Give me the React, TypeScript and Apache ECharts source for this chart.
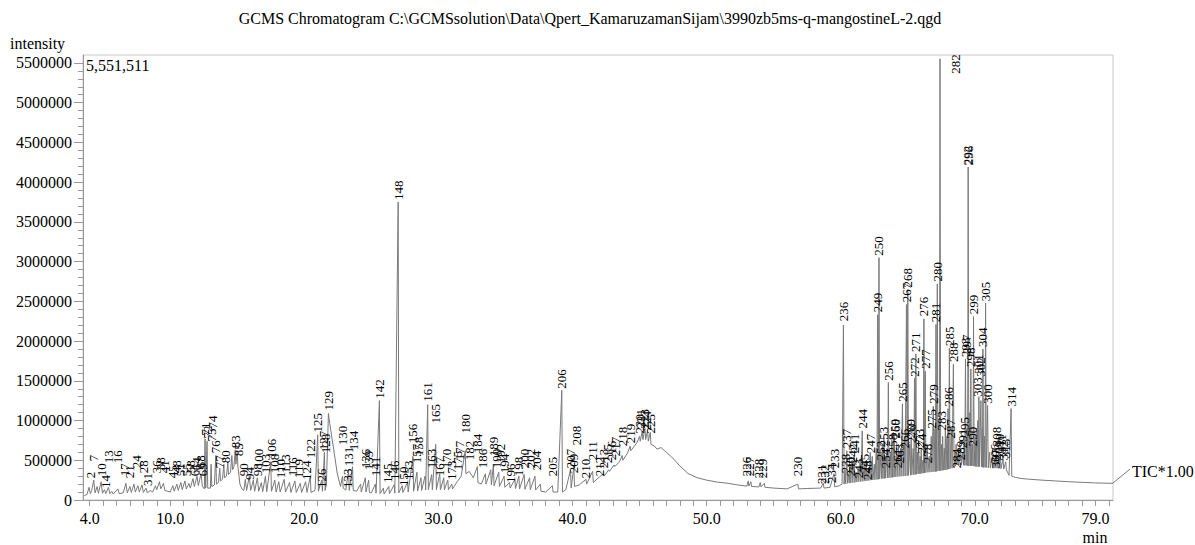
import React, { useEffect, useRef } from "react";
import * as echarts from "echarts";

const TITLE = "GCMS Chromatogram C:\\GCMSsolution\\Data\\Qpert_KamaruzamanSijam\\3990zb5ms-q-mangostineL-2.qgd";
const MAX_INTENSITY_TEXT = "5,551,511";
const Y_MAX = 5600000;

const xLabelValues = [4, 10, 20, 30, 40, 50, 60, 70, 79];
const yLabelValues = [0, 500000, 1000000, 1500000, 2000000, 2500000, 3000000, 3500000, 4000000, 4500000, 5000000, 5500000];

// TIC trace (retention time in min, intensity)
const traceA: number[][] = [
  [3.6, 55000], [3.8, 70000], [3.95, 160000], [4.05, 80000], [4.15, 120000], [4.3, 250000], [4.4, 90000],
  [4.55, 170000], [4.65, 85000], [4.85, 230000], [4.95, 85000], [5.1, 130000], [5.2, 80000], [5.4, 160000],
  [5.5, 80000], [5.65, 110000], [5.75, 75000], [6.1, 140000], [6.2, 80000], [6.5, 90000], [6.7, 210000],
  [6.8, 90000], [7.0, 170000], [7.1, 95000], [7.3, 200000], [7.4, 100000], [7.6, 180000], [7.7, 100000],
  [7.9, 190000], [8.0, 95000], [8.2, 150000], [8.3, 90000], [8.5, 120000], [8.7, 100000], [8.9, 180000],
  [9.0, 130000], [9.2, 230000], [9.3, 140000], [9.5, 210000], [9.6, 120000], [9.8, 110000], [10.0, 100000],
  [10.2, 180000], [10.3, 110000], [10.5, 200000], [10.6, 120000], [10.8, 220000], [10.9, 130000],
  [11.1, 240000], [11.2, 140000], [11.4, 210000], [11.5, 150000], [11.7, 270000], [11.8, 170000],
  [12.0, 300000], [12.1, 180000], [12.3, 330000], [12.4, 170000], [12.55, 140000], [12.6, 770000],
  [12.65, 150000], [12.75, 740000], [12.8, 150000], [13.0, 150000], [13.05, 450000], [13.1, 170000],
  [13.3, 190000], [13.4, 560000], [13.45, 200000], [13.6, 220000], [13.7, 400000], [13.75, 240000],
  [13.9, 260000], [14.0, 450000], [14.05, 280000], [14.2, 300000], [14.3, 470000], [14.35, 320000],
  [14.5, 350000], [14.6, 560000], [14.65, 380000], [14.75, 420000], [14.85, 630000], [14.9, 450000],
  [15.0, 600000], [15.05, 420000], [15.2, 200000], [15.35, 140000],
];

const traceB: number[][] = [
  [15.5, 120000], [15.6, 260000], [15.7, 120000], [15.9, 300000], [16.0, 120000], [16.2, 250000],
  [16.3, 110000], [16.5, 280000], [16.6, 110000], [16.8, 220000], [16.9, 105000], [17.1, 300000],
  [17.2, 105000], [17.5, 480000], [17.55, 110000], [17.8, 250000], [17.9, 100000], [18.1, 230000],
  [18.2, 100000], [18.5, 260000], [18.6, 100000], [18.9, 220000], [19.0, 95000], [19.3, 240000],
  [19.4, 95000], [19.7, 210000], [19.8, 95000], [20.1, 230000], [20.2, 95000], [20.45, 300000],
  [20.5, 95000], [20.8, 120000], [21.0, 820000], [21.05, 110000], [21.3, 250000], [21.35, 110000],
  [21.5, 600000], [21.55, 120000], [21.65, 200000], [21.8, 1090000], [21.9, 960000], [22.2, 630000],
  [22.45, 340000], [22.7, 170000], [22.85, 300000], [22.9, 150000], [23.1, 125000], [23.3, 380000],
  [23.35, 120000], [23.6, 420000], [23.65, 120000], [23.9, 110000], [24.2, 200000], [24.25, 100000],
  [24.55, 280000], [24.6, 100000], [24.8, 250000], [24.85, 95000],
];

const traceC: number[][] = [
  [25.0, 90000], [25.3, 200000], [25.35, 85000], [25.6, 1250000], [25.65, 80000], [25.9, 150000],
  [25.95, 75000], [26.3, 170000], [26.35, 80000], [26.7, 190000], [26.75, 85000], [27.0, 3750000],
  [27.05, 90000], [27.3, 180000], [27.35, 95000], [27.7, 220000], [27.75, 100000], [28.1, 550000],
  [28.15, 110000], [28.4, 350000], [28.45, 115000], [28.7, 280000], [28.75, 120000], [29.0, 300000],
  [29.05, 125000], [29.2, 1200000], [29.25, 130000], [29.5, 320000], [29.55, 130000], [29.8, 700000],
  [29.85, 130000], [30.1, 330000], [30.15, 130000], [30.4, 280000], [30.45, 130000], [30.7, 250000],
  [30.75, 130000], [31.0, 200000], [31.05, 140000], [31.4, 230000], [31.7, 300000], [32.0, 620000],
  [32.05, 330000], [32.3, 360000], [32.6, 280000], [32.9, 420000], [32.95, 220000], [33.2, 200000],
  [33.5, 330000], [33.55, 200000], [33.9, 380000], [33.95, 190000], [34.1, 450000], [34.15, 180000],
  [34.5, 350000], [34.55, 170000], [34.9, 300000], [34.95, 160000], [35.3, 220000], [35.35, 150000],
  [35.7, 260000], [35.75, 145000], [36.0, 300000], [36.05, 140000], [36.4, 320000], [36.45, 135000],
  [36.8, 280000], [36.85, 130000], [37.2, 300000], [37.25, 125000], [37.6, 200000], [37.65, 110000],
  [38.0, 100000], [38.5, 180000], [38.55, 100000], [38.9, 100000], [39.2, 1380000], [39.25, 100000],
  [39.5, 130000], [39.85, 380000], [39.9, 150000],
];

const traceD: number[][] = [
  [40.1, 420000], [40.15, 170000], [40.5, 190000], [41.0, 260000], [41.05, 200000], [41.5, 360000],
  [41.55, 220000], [42.0, 290000], [42.3, 330000], [42.35, 300000], [42.7, 380000], [42.75, 360000],
  [43.1, 440000], [43.15, 420000], [43.5, 480000], [43.7, 560000], [43.75, 500000], [44.1, 590000],
  [44.3, 680000], [44.35, 620000], [44.8, 720000], [45.0, 800000], [45.05, 740000], [45.2, 870000],
  [45.25, 760000], [45.4, 900000], [45.45, 760000], [45.6, 880000], [45.65, 740000], [45.8, 850000],
  [45.85, 700000], [46.1, 680000], [46.3, 640000], [46.6, 660000], [47.0, 600000], [47.4, 540000],
  [48.0, 430000], [48.6, 335000], [49.3, 280000], [50.0, 250000], [50.8, 225000], [51.6, 210000],
  [52.3, 190000], [53.0, 175000], [53.1, 240000], [53.15, 175000], [53.3, 230000], [53.35, 170000],
  [53.9, 165000], [54.0, 220000], [54.05, 165000], [54.3, 210000], [54.35, 160000], [55.0, 150000],
  [56.0, 140000], [56.8, 200000], [56.85, 140000], [57.5, 145000], [58.5, 150000], [58.7, 210000],
  [58.75, 150000], [59.2, 160000], [59.5, 330000], [59.55, 165000], [59.9, 180000], [60.1, 200000],
];

const traceE: number[][] = [
  [60.2, 2200000], [60.25, 200000], [60.32, 380000], [60.37, 205000], [60.45, 620000], [60.5, 210000],
  [60.58, 330000], [60.63, 212000], [60.7, 450000], [60.75, 215000], [60.85, 500000], [60.9, 218000],
  [61.0, 560000], [61.05, 220000], [61.15, 350000], [61.2, 225000], [61.3, 400000], [61.35, 230000],
  [61.45, 520000], [61.5, 232000], [61.6, 870000], [61.65, 235000], [61.75, 450000], [61.8, 238000],
  [61.9, 500000], [61.95, 240000], [62.05, 380000], [62.1, 245000], [62.2, 600000], [62.25, 250000],
  [62.35, 550000], [62.4, 252000], [62.5, 450000], [62.55, 255000], [62.65, 650000], [62.7, 258000],
  [62.75, 2330000], [62.8, 260000], [62.85, 3050000], [62.9, 265000], [63.0, 600000], [63.05, 268000],
  [63.1, 700000], [63.15, 270000], [63.22, 800000], [63.27, 272000], [63.3, 550000], [63.35, 275000],
  [63.45, 650000], [63.5, 278000], [63.55, 1480000], [63.6, 280000], [63.7, 600000], [63.75, 282000],
  [63.8, 750000], [63.85, 285000], [63.92, 850000], [63.97, 288000], [64.0, 800000], [64.05, 290000],
  [64.15, 600000], [64.2, 292000], [64.3, 700000], [64.35, 295000], [64.45, 650000], [64.5, 298000],
  [64.6, 1210000], [64.65, 300000], [64.75, 800000], [64.8, 302000], [64.9, 2460000], [64.95, 305000],
  [65.0, 2650000], [65.05, 310000], [65.15, 700000], [65.2, 312000], [65.25, 800000], [65.3, 315000],
  [65.4, 650000], [65.45, 318000], [65.5, 1530000], [65.55, 320000], [65.6, 1840000], [65.65, 325000],
  [65.72, 600000], [65.77, 328000], [65.8, 750000], [65.85, 330000], [65.92, 550000], [65.97, 332000],
  [66.0, 650000], [66.05, 335000], [66.12, 500000], [66.16, 338000], [66.2, 2280000], [66.25, 340000],
  [66.3, 1620000], [66.35, 345000], [66.45, 700000], [66.5, 348000], [66.6, 550000], [66.65, 350000],
  [66.75, 800000], [66.8, 352000], [66.9, 1180000], [66.95, 355000], [67.02, 900000], [67.06, 358000],
  [67.1, 2210000], [67.15, 360000], [67.2, 2720000], [67.25, 365000], [67.32, 1000000], [67.36, 368000],
  [67.4, 5551511], [67.45, 370000], [67.52, 700000], [67.56, 372000], [67.6, 800000], [67.65, 375000],
  [67.72, 650000], [67.76, 378000], [67.8, 900000], [67.85, 380000], [67.92, 800000], [67.96, 385000],
  [68.0, 1150000], [68.05, 390000], [68.1, 1910000], [68.15, 395000], [68.25, 900000], [68.3, 400000],
  [68.4, 1710000], [68.45, 410000], [68.52, 600000], [68.56, 425000], [68.6, 700000], [68.65, 440000],
  [68.75, 550000], [68.8, 440000], [68.95, 650000], [69.0, 440000], [69.1, 600000], [69.15, 438000],
  [69.2, 800000], [69.25, 435000], [69.3, 1775000], [69.35, 435000], [69.42, 900000], [69.46, 432000],
  [69.5, 4190000], [69.55, 430000], [69.62, 1100000], [69.66, 430000], [69.7, 1650000], [69.75, 430000],
  [69.82, 700000], [69.86, 428000], [69.9, 2310000], [69.95, 425000], [70.02, 800000], [70.06, 422000],
  [70.1, 900000], [70.15, 420000], [70.22, 1000000], [70.26, 420000], [70.3, 1300000], [70.35, 420000],
  [70.45, 1250000], [70.5, 415000], [70.55, 900000], [70.57, 412000], [70.6, 1900000], [70.65, 410000],
  [70.72, 800000], [70.76, 410000], [70.8, 2480000], [70.85, 410000], [70.95, 1190000], [71.0, 405000],
  [71.1, 600000], [71.15, 403000], [71.3, 550000], [71.35, 400000], [71.45, 500000], [71.5, 400000],
  [71.6, 600000], [71.65, 400000], [71.75, 520000], [71.8, 398000], [71.9, 580000], [71.95, 395000],
  [72.1, 520000], [72.15, 390000], [72.3, 480000], [72.35, 380000], [72.55, 310000], [72.7, 1150000],
  [72.75, 300000], [73.0, 285000], [73.5, 270000], [74.0, 262000], [75.0, 250000], [76.0, 240000],
  [77.0, 230000], [78.0, 222000], [79.0, 215000], [80.3, 210000],
];

// peak labels: [retention time, label anchor intensity, peak number]
const labelsEarly: [number, number, string][] = [
  [4.05, 250000, "2"], [4.3, 462500, "7"], [4.85, 275000, "10"], [5.2, 125000, "14"], [5.4, 437500, "13"],
  [6.1, 437500, "16"], [6.6, 275000, "17"], [7.0, 250000, "21"], [7.5, 375000, "24"], [8.0, 312500, "28"],
  [8.3, 150000, "31"], [9.0, 312500, "36"], [9.3, 350000, "38"], [9.6, 312500, "41"], [10.2, 250000, "45"],
  [10.5, 312500, "48"], [10.8, 275000, "51"], [11.2, 275000, "55"], [11.5, 312500, "58"], [11.8, 275000, "61"],
  [12.0, 350000, "64"], [12.25, 375000, "68"], [12.4, 275000, "69"], [12.6, 787500, "71"], [12.75, 750000, "72"],
  [13.05, 712500, "75"], [13.15, 875000, "74"], [13.4, 562500, "76"], [13.7, 375000, "77"], [14.1, 437500, "80"],
  [14.9, 625000, "83"], [15.1, 525000, "85"], [15.5, 275000, "90"], [15.9, 225000, "94"], [16.5, 275000, "98"],
  [16.6, 375000, "100"], [17.1, 312500, "103"], [17.55, 500000, "106"], [17.8, 312500, "108"], [18.2, 250000, "110"],
  [18.6, 312500, "113"], [19.1, 275000, "116"], [19.6, 250000, "119"], [20.2, 225000, "124"], [20.45, 500000, "122"],
  [21.0, 825000, "125"], [21.3, 125000, "126"], [21.45, 600000, "127"], [21.55, 562500, "128"], [21.8, 1100000, "129"],
];

const labelsMid: [number, number, string][] = [
  [22.85, 662500, "130"], [23.25, 125000, "133"], [23.3, 400000, "131"], [23.65, 600000, "134"], [24.55, 375000, "136"],
  [24.8, 350000, "139"], [25.3, 275000, "141"], [25.6, 1250000, "142"], [26.2, 187500, "145"], [26.7, 225000, "146"],
  [27.0, 3750000, "148"], [27.4, 150000, "150"], [27.8, 225000, "153"], [28.1, 687500, "156"], [28.35, 437500, "157"],
  [28.5, 525000, "158"], [29.2, 1212500, "161"], [29.5, 375000, "163"], [29.8, 937500, "165"], [30.1, 275000, "167"],
  [30.6, 375000, "170"], [31.0, 225000, "173"], [31.4, 350000, "175"], [31.6, 475000, "177"], [32.0, 812500, "180"],
  [32.3, 475000, "182"], [32.9, 562500, "184"], [33.3, 375000, "186"], [34.1, 525000, "189"], [34.3, 375000, "190"],
  [34.6, 437500, "192"], [34.9, 312500, "194"], [35.4, 187500, "196"], [36.0, 275000, "198"], [36.4, 375000, "200"],
  [36.9, 375000, "202"], [37.3, 350000, "204"], [38.5, 275000, "205"], [39.2, 1375000, "206"], [39.85, 375000, "207"],
  [40.1, 312500, "209"], [40.3, 662500, "208"], [41.0, 250000, "210"], [41.5, 475000, "211"], [42.0, 275000, "212"],
  [42.3, 375000, "213"], [42.6, 437500, "215"], [42.9, 475000, "216"], [43.2, 525000, "217"], [43.7, 650000, "218"],
  [44.3, 687500, "219"], [45.0, 812500, "220"], [45.1, 875000, "221"], [45.4, 875000, "223"], [45.5, 850000, "224"],
  [45.8, 812500, "225"], [53.0, 275000, "226"], [53.2, 275000, "227"], [53.9, 250000, "228"], [54.2, 250000, "229"],
  [56.8, 275000, "230"], [58.6, 175000, "231"], [58.8, 175000, "232"], [59.3, 187500, "234"], [59.5, 375000, "233"],
];

const labelsLate: [number, number, string][] = [
  [60.2, 2225000, "236"], [60.35, 312500, "238"], [60.45, 625000, "237"], [60.7, 275000, "240"], [60.9, 437500, "242"],
  [61.0, 562500, "241"], [61.3, 250000, "243"], [61.6, 875000, "244"], [61.8, 312500, "245"], [62.0, 225000, "248"],
  [62.2, 562500, "247"], [62.75, 2337500, "249"], [62.85, 3050000, "250"], [63.0, 475000, "252"], [63.2, 650000, "253"],
  [63.35, 375000, "254"], [63.55, 1475000, "256"], [63.85, 562500, "258"], [64.0, 750000, "259"], [64.1, 750000, "260"],
  [64.2, 375000, "261"], [64.35, 437500, "263"], [64.6, 1212500, "265"], [64.75, 625000, "266"], [64.9, 2462500, "267"],
  [65.0, 2650000, "268"], [65.2, 750000, "269"], [65.3, 687500, "270"], [65.5, 1525000, "272"], [65.6, 1837500, "271"],
  [65.85, 625000, "273"], [66.05, 562500, "274"], [66.2, 2287500, "276"], [66.3, 1625000, "277"], [66.5, 437500, "278"],
  [66.8, 875000, "275"], [66.9, 1187500, "279"], [67.1, 2212500, "281"], [67.2, 2725000, "280"], [67.5, 850000, "283"],
  [68.0, 1150000, "286"], [68.1, 1912500, "285"], [68.2, 750000, "287"], [68.4, 1712500, "288"], [68.58, 5337500, "282"],
  [68.6, 375000, "284"], [68.9, 475000, "289"], [69.05, 625000, "291"], [69.2, 775000, "295"], [69.3, 1775000, "293"],
  [69.4, 1812500, "297"], [69.45, 4187500, "292"], [69.55, 4187500, "296"], [69.7, 1650000, "298"], [69.85, 650000, "290"],
  [69.9, 2312500, "299"], [70.2, 1275000, "303"], [70.3, 1562500, "301"], [70.4, 1525000, "302"], [70.6, 1900000, "304"],
  [70.8, 2475000, "305"], [70.95, 1187500, "300"], [71.45, 437500, "306"], [71.55, 375000, "307"], [71.6, 650000, "308"],
  [71.75, 475000, "309"], [71.85, 562500, "310"], [72.0, 562500, "311"], [72.15, 475000, "312"], [72.25, 500000, "313"],
  [72.7, 1150000, "314"],
];

const FONT = '"Liberation Serif", "Times New Roman", serif';

export default function App() {
  const ref = useRef<HTMLDivElement>(null);

  useEffect(() => {
    if (!ref.current) return;
    const chart = echarts.init(ref.current, undefined, { renderer: "svg" });

    const trace = [...traceA, ...traceB, ...traceC, ...traceD, ...traceE];
    const labels = [...labelsEarly, ...labelsMid, ...labelsLate];

    const xTickValues: number[] = [];
    for (let v = 4; v <= 80; v += 1) xTickValues.push(v);
    const yMinorValues: number[] = [];
    for (let v = 0; v <= 5500000; v += 100000) yMinorValues.push(v);

    const gray = "#9a9a9a";

    chart.setOption({
      animation: false,
      grid: {
        left: 83,
        right: 82,
        top: 55,
        bottom: 45,
        show: true,
        borderColor: "#c8c8c8",
        borderWidth: 1,
        backgroundColor: "transparent",
      },
      xAxis: {
        type: "value",
        min: 3.5,
        max: 80.3,
        axisLine: { show: true, lineStyle: { color: gray } },
        axisTick: { show: true, length: 6, lineStyle: { color: gray }, customValues: xTickValues },
        axisLabel: {
          customValues: xLabelValues,
          formatter: (v: number) => v.toFixed(1),
          color: "#000",
          fontFamily: FONT,
          fontSize: 16,
          margin: 10,
        },
        splitLine: { show: false },
      },
      yAxis: [
        {
          type: "value",
          min: 0,
          max: Y_MAX,
          axisLine: { show: true, lineStyle: { color: gray } },
          axisTick: { show: true, length: 9, lineStyle: { color: gray }, customValues: yLabelValues },
          axisLabel: {
            customValues: yLabelValues,
            formatter: (v: number) => String(v),
            color: "#000",
            fontFamily: FONT,
            fontSize: 16,
            margin: 11,
          },
          splitLine: { show: false },
        },
        {
          type: "value",
          min: 0,
          max: Y_MAX,
          position: "left",
          axisLine: { show: false },
          axisTick: { show: true, length: 5, lineStyle: { color: gray }, customValues: yMinorValues },
          axisLabel: { show: false },
          splitLine: { show: false },
        },
      ],
      series: [
        {
          type: "line",
          data: trace,
          symbol: "none",
          lineStyle: { color: "#7a7a7a", width: 1 },
          clip: true,
          z: 2,
        },
        {
          type: "custom",
          data: labels.map((l) => [l[0], l[1]]),
          clip: false,
          z: 3,
          renderItem: (params: any, api: any) => {
            const p = api.coord([api.value(0), api.value(1)]);
            return {
              type: "text",
              x: p[0],
              y: p[1] - 2,
              rotation: Math.PI / 2,
              style: {
                text: labels[params.dataIndex][2],
                align: "left",
                verticalAlign: "middle",
                font: `13px ${FONT}`,
                fill: "#000",
              },
            };
          },
        },
      ],
      graphic: [
        {
          type: "text",
          x: 590,
          y: 18,
          style: { text: TITLE, align: "center", verticalAlign: "middle", font: `16px ${FONT}`, fill: "#000" },
        },
        {
          type: "text",
          x: 10,
          y: 43,
          style: { text: "intensity", align: "left", verticalAlign: "middle", font: `16px ${FONT}`, fill: "#000" },
        },
        {
          type: "text",
          x: 86,
          y: 65,
          style: { text: MAX_INTENSITY_TEXT, align: "left", verticalAlign: "middle", font: `16px ${FONT}`, fill: "#000" },
        },
        {
          type: "text",
          x: 1095,
          y: 537,
          style: { text: "min", align: "center", verticalAlign: "middle", font: `16px ${FONT}`, fill: "#000" },
        },
        {
          type: "line",
          shape: { x1: 1113, y1: 483, x2: 1130, y2: 469 },
          style: { stroke: "#7a7a7a", lineWidth: 1 },
        },
        {
          type: "text",
          x: 1132,
          y: 471,
          style: { text: "TIC*1.00", align: "left", verticalAlign: "middle", font: `16px ${FONT}`, fill: "#000" },
        },
      ],
    });

    return () => chart.dispose();
  }, []);

  return (
    <div
      ref={ref}
      style={{ position: "fixed", left: 0, top: 0, width: 1195, height: 545, background: "#fff" }}
    />
  );
}
